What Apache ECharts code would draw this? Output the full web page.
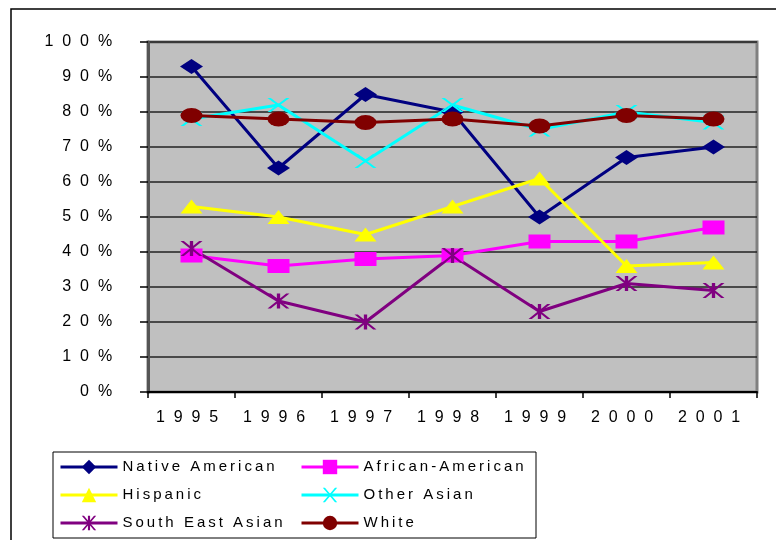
<!DOCTYPE html>
<html><head><meta charset="utf-8">
<script src="https://cdn.jsdelivr.net/npm/echarts@6/dist/echarts.min.js"></script>
<style>html,body{margin:0;padding:0;background:#fff}#c{width:776px;height:540px}</style>
</head><body><div id="c"></div>
<script>
const years = ['1995','1996','1997','1998','1999','2000','2001'];
const nativeAmerican = [93, 64, 85, 80, 50, 67, 70];
const africanAmerican = [39, 36, 38, 39, 43, 43, 47];
const hispanic = [53, 50, 45, 53, 61, 36, 37];
const otherAsian = [78, 82, 66, 82, 75, 80, 77];
const southEastAsian = [41, 26, 20, 39, 23, 31, 29];
const white = [79, 78, 77, 78, 76, 79, 78];
const yTicks = [0, 10, 20, 30, 40, 50, 60, 70, 80, 90, 100];

const FONT = '"Liberation Sans", Arial, sans-serif';
const sp = s => s.split('').map(c => c + '  ').join('');
const spLegend = s => s.split('').join('\u2009');

const X_PATH = 'path://M0,0 L3,0 L20,12 L17,12 Z M17,0 L20,0 L3,12 L0,12 Z';
const STAR_PATH = 'path://M0,0 L3,0 L20,14 L17,14 Z M17,0 L20,0 L3,14 L0,14 Z M8.5,0 L11.5,0 L11.5,14 L8.5,14 Z';

function mk(name, data, color, symbol, size) {
  return {
    name, type: 'line', data, symbol, symbolSize: size,
    lineStyle: { color, width: 3 },
    itemStyle: { color },
    emphasis: { disabled: true },
    animation: false
  };
}

const series = [
  mk('Native American', nativeAmerican, '#000080', 'diamond', [23, 15]),
  mk('African-American', africanAmerican, '#FF00FF', 'rect', [22, 14]),
  mk('Hispanic', hispanic, '#FFFF00', 'triangle', [22, 14]),
  mk('Other Asian', otherAsian, '#00FFFF', X_PATH, [22, 14]),
  mk('South East Asian', southEastAsian, '#800080', STAR_PATH, [22, 15]),
  mk('White', white, '#800000', 'circle', [22, 15])
];

const legendCommon = {
  orient: 'vertical', itemWidth: 57, itemHeight: 18, itemGap: 10,
  height: 90, padding: 0,
  selectedMode: false,
  lineStyle: { width: 3 },
  formatter: n => spLegend(n),
  textStyle: { fontFamily: FONT, fontSize: 15, color: '#000', lineHeight: 18 }
};

const chart = echarts.init(document.getElementById('c'), null, { renderer: 'canvas' });
chart.setOption({
  animation: false,
  backgroundColor: '#fff',
  graphic: [
    { type: 'rect', shape: { x: 11, y: 9, width: 900, height: 700 }, style: { fill: 'none', stroke: '#000', lineWidth: 1.5 }, z: 0 },
    { type: 'rect', shape: { x: 53, y: 452, width: 483, height: 86 }, style: { fill: '#fff', stroke: '#000', lineWidth: 1 }, z: 1 }
  ],
  grid: { left: 148, top: 42, right: 19, bottom: 148, show: true, backgroundColor: '#C0C0C0', borderColor: '#808080', borderWidth: 3 },
  xAxis: {
    type: 'category', data: years, boundaryGap: true,
    axisLine: { lineStyle: { color: '#000', width: 2 } },
    axisTick: { show: true, length: 6, interval: 0, lineStyle: { color: '#000', width: 1.5 } },
    axisLabel: { interval: 0, formatter: v => sp(v), fontFamily: FONT, fontSize: 16, color: '#000', margin: 18 }
  },
  yAxis: {
    type: 'value', min: 0, max: 100, interval: 10,
    axisLine: { show: true, lineStyle: { color: '#555', width: 3 } },
    axisTick: { show: true, length: 8, lineStyle: { color: '#000', width: 1.5 } },
    splitLine: { show: true, lineStyle: { color: '#222', width: 1.5 } },
    axisLabel: { formatter: v => sp(v + '%'), fontFamily: FONT, fontSize: 16, color: '#000', margin: 27, padding: [3, 0, 0, 0] }
  },
  legend: [
    Object.assign({ left: 59, top: 458, data: ['Native American', 'Hispanic', 'South East Asian'] }, legendCommon),
    Object.assign({ left: 300, top: 458, data: ['African-American', 'Other Asian', 'White'] }, legendCommon)
  ],
  series
});
</script></body></html>
